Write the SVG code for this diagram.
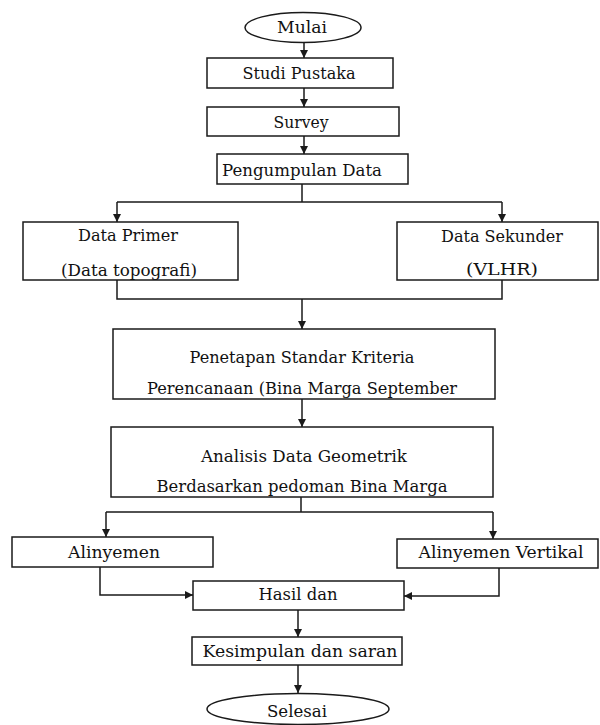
<svg xmlns="http://www.w3.org/2000/svg" width="600" height="725" viewBox="0 0 600 725">
<style>
.b{fill:#fff;stroke:#1a1a1a;stroke-width:1.5}
.c{fill:none;stroke:#1a1a1a;stroke-width:1.5}
text{font-family:"DejaVu Serif","Liberation Serif",serif;font-size:16px;fill:#111;text-anchor:middle;dominant-baseline:central}
</style>
<defs>
<marker id="ah" markerUnits="userSpaceOnUse" markerWidth="10" markerHeight="10" refX="9" refY="5" orient="auto">
<path d="M1,1 L9,5 L1,9 Z" fill="#1a1a1a"/>
</marker>
</defs>
<rect width="600" height="725" fill="#fff"/>
<g id="connectors">
<path class="c" d="M304,42 V58" marker-end="url(#ah)"/>
<path class="c" d="M304,88 V107" marker-end="url(#ah)"/>
<path class="c" d="M304,136 V154" marker-end="url(#ah)"/>
<path class="c" d="M302,184 V202 M117,202 H502"/>
<path class="c" d="M117,202 V222" marker-end="url(#ah)"/>
<path class="c" d="M502,202 V222" marker-end="url(#ah)"/>
<path class="c" d="M117,280 V299 H502 V280"/>
<path class="c" d="M302,299 V329" marker-end="url(#ah)"/>
<path class="c" d="M302,399 V427" marker-end="url(#ah)"/>
<path class="c" d="M301,497 V512 M106,512 H493"/>
<path class="c" d="M106,512 V537" marker-end="url(#ah)"/>
<path class="c" d="M493,512 V539" marker-end="url(#ah)"/>
<path class="c" d="M100,567 V595 H193" marker-end="url(#ah)"/>
<path class="c" d="M499,568 V596 H404" marker-end="url(#ah)"/>
<path class="c" d="M298,610 V637" marker-end="url(#ah)"/>
<path class="c" d="M298,665 V693" marker-end="url(#ah)"/>
</g>
<g id="mulai"><ellipse class="b" cx="303" cy="27.5" rx="58" ry="15"/><text x="302" y="27" textLength="50" lengthAdjust="spacingAndGlyphs">Mulai</text></g>
<g id="studi"><rect class="b" x="207" y="58" width="186" height="30"/><text x="299" y="73" textLength="113" lengthAdjust="spacingAndGlyphs">Studi Pustaka</text></g>
<g id="survey"><rect class="b" x="207" y="107" width="192" height="29"/><text x="301" y="122" textLength="55" lengthAdjust="spacingAndGlyphs">Survey</text></g>
<g id="pengumpulan"><rect class="b" x="217" y="154" width="191" height="30"/><text x="302" y="170" textLength="160" lengthAdjust="spacingAndGlyphs">Pengumpulan Data</text></g>
<g id="primer"><rect class="b" x="23" y="222" width="215" height="58"/><text x="128" y="235" textLength="100" lengthAdjust="spacingAndGlyphs">Data Primer</text><text x="129" y="270" textLength="136" lengthAdjust="spacingAndGlyphs">(Data topografi)</text></g>
<g id="sekunder"><rect class="b" x="397" y="222" width="201" height="58"/><text x="502" y="236" textLength="122" lengthAdjust="spacingAndGlyphs">Data Sekunder</text><text x="502" y="269" textLength="72" lengthAdjust="spacingAndGlyphs">(VLHR)</text></g>
<g id="penetapan"><rect class="b" x="113" y="329" width="382" height="70"/><text x="302" y="357" textLength="225" lengthAdjust="spacingAndGlyphs">Penetapan Standar Kriteria</text><text x="302" y="388" textLength="310" lengthAdjust="spacingAndGlyphs">Perencanaan (Bina Marga September</text></g>
<g id="analisis"><rect class="b" x="111" y="427" width="382" height="70"/><text x="304" y="456" textLength="206" lengthAdjust="spacingAndGlyphs">Analisis Data Geometrik</text><text x="302" y="486" textLength="291" lengthAdjust="spacingAndGlyphs">Berdasarkan pedoman Bina Marga</text></g>
<g id="alinyemen"><rect class="b" x="12" y="537" width="201" height="30"/><text x="114" y="552" textLength="92" lengthAdjust="spacingAndGlyphs">Alinyemen</text></g>
<g id="vertikal"><rect class="b" x="397" y="539" width="201" height="29"/><text x="501" y="552" textLength="165" lengthAdjust="spacingAndGlyphs">Alinyemen Vertikal</text></g>
<g id="hasil"><rect class="b" x="193" y="581" width="211" height="29"/><text x="298" y="594" textLength="79" lengthAdjust="spacingAndGlyphs">Hasil dan</text></g>
<g id="kesimpulan"><rect class="b" x="192" y="637" width="210" height="28"/><text x="300" y="651" textLength="195" lengthAdjust="spacingAndGlyphs">Kesimpulan dan saran</text></g>
<g id="selesai"><ellipse class="b" cx="298" cy="709" rx="91" ry="15.5"/><text x="297" y="711" textLength="60" lengthAdjust="spacingAndGlyphs">Selesai</text></g>
</svg>
